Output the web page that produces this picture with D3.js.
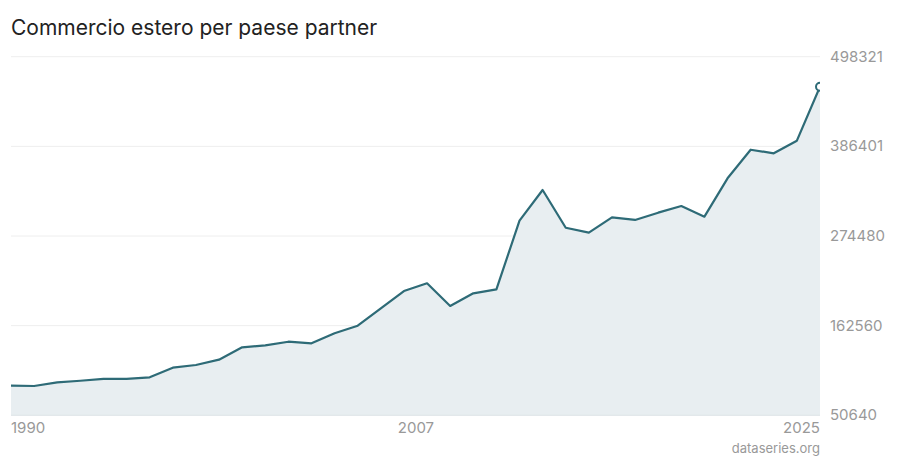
<!DOCTYPE html>
<html>
<head>
<meta charset="utf-8">
<script src="https://cdn.jsdelivr.net/npm/d3@7"></script>
<style>
  html, body { margin: 0; padding: 0; background: #fff; }
  svg { display: block; font-family: Inter, "Noto Sans", sans-serif; }
</style>
</head>
<body>
<svg id="chart" width="900" height="460"></svg>
<script>
const title = "Commercio estero per paese partner";
const source = "dataseries.org";
const years = [1990,1991,1992,1993,1994,1995,1996,1997,1998,1999,2000,2001,2002,2003,2004,2005,2006,2007,2008,2009,2010,2011,2012,2013,2014,2015,2016,2017,2018,2019,2020,2021,2022,2023,2024,2025];
const values = [87600,87200,91800,93800,96000,96200,98100,110100,113400,120100,135500,138000,142500,140500,153000,162500,184200,205800,215400,187100,202900,207900,293600,331900,284800,278600,297800,294500,303600,311900,298600,346500,382200,377700,393500,460900];
const yTicks = [50640,162560,274480,386401,498321];
const xTicks = [1990,2007,2025];

const data = years.map((y, i) => ({ year: y, value: values[i] }));

const svg = d3.select("#chart");
const mLeft = 11, mRight = 820, mTop = 56.7, mBottom = 415.3;

const x = d3.scaleLinear().domain([years[0], years[years.length - 1]]).range([mLeft, mRight]);
const y = d3.scaleLinear().domain([yTicks[0], yTicks[yTicks.length - 1]]).range([mBottom, mTop]);

svg.append("defs").append("clipPath").attr("id", "clip")
  .append("rect").attr("x", mLeft).attr("y", 0).attr("width", mRight - mLeft).attr("height", mBottom);

// gridlines
svg.append("g").selectAll("line").data(yTicks.slice(1)).join("line")
  .attr("x1", mLeft).attr("x2", mRight)
  .attr("y1", d => y(d)).attr("y2", d => y(d))
  .attr("stroke", "#eeeeee").attr("stroke-width", 1);

const plot = svg.append("g").attr("clip-path", "url(#clip)");

plot.append("path").datum(data)
  .attr("d", d3.area().x(d => x(d.year)).y0(mBottom).y1(d => y(d.value)))
  .attr("fill", "#e8eef1");

plot.append("path").datum(data)
  .attr("d", d3.line().x(d => x(d.year)).y(d => y(d.value)))
  .attr("fill", "none").attr("stroke", "#2e6b77").attr("stroke-width", 2.2)
  .attr("stroke-linejoin", "round");

const last = data[data.length - 1];
plot.append("circle")
  .attr("cx", x(last.year)).attr("cy", y(last.value)).attr("r", 4)
  .attr("fill", "#fff").attr("stroke", "#2e6b77").attr("stroke-width", 2);

// baseline
svg.append("line").attr("x1", mLeft).attr("x2", mRight)
  .attr("y1", mBottom).attr("y2", mBottom)
  .attr("stroke", "#dde3e6").attr("stroke-width", 1);

// y axis labels (right)
svg.append("g").selectAll("text").data(yTicks).join("text")
  .attr("x", 830).attr("y", d => y(d) + 5)
  .attr("font-size", 15).attr("fill", "#999").text(d => d);

// x axis labels
svg.append("g").selectAll("text").data(xTicks).join("text")
  .attr("x", (d, i) => i === 0 || i === xTicks.length - 1 ? x(d) : x(d) + 12)
  .attr("y", 432.5)
  .attr("text-anchor", (d, i) => i === 0 ? "start" : (i === xTicks.length - 1 ? "end" : "middle"))
  .attr("font-size", 15).attr("fill", "#999").text(d => d);

svg.append("text").attr("x", 11).attr("y", 34.5)
  .attr("font-size", 21).attr("fill", "#222").text(title);

svg.append("text").attr("x", 820).attr("y", 453)
  .attr("text-anchor", "end").attr("font-size", 13).attr("fill", "#999").text(source);
</script>
</body>
</html>
